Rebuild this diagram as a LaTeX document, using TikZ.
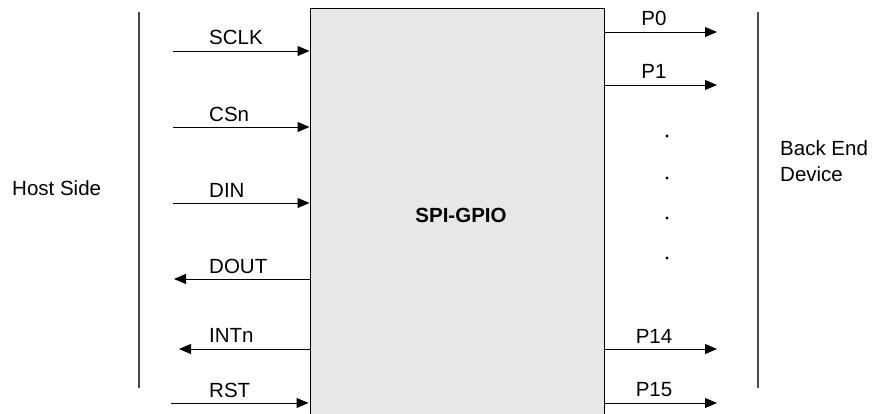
\documentclass[tikz,border=0pt]{standalone}
\usepackage{fontspec}
\setmainfont{Liberation Sans}
\usetikzlibrary{positioning,calc,arrows.meta}
\definecolor{boxgray}{RGB}{230,231,232}
\definecolor{sidegray}{RGB}{70,70,70}

\begin{document}
\begin{tikzpicture}[x=1pt,y=-1pt,
    chip/.style={rectangle,draw,line width=1pt,fill=boxgray,minimum width=294pt,minimum height=420pt,inner sep=0pt},
    sig/.style={-{Triangle[length=12pt,width=10pt]},line width=1pt},
    lbl/.style={inner sep=0pt,font=\fontsize{20.5}{26}\selectfont},
    side/.style={draw=sidegray,line width=1.4pt}]
\useasboundingbox (0,0) rectangle (873,413);

% Bloc central
\node[chip] (gpio) at (457,218) {};
\node[lbl,anchor=base,font=\fontsize{20.5}{26}\selectfont\bfseries] (name) at (461,222) {SPI-GPIO};

% Cotes
\draw[side] (139,12) -- (139,388);
\draw[side] (758,12) -- (758,388);
\node[lbl,anchor=base west] (host) at (12,195) {Host Side};
\node[lbl,anchor=base west,align=left] (dev) at (780,181) {Back End\\Device};

% Signaux hote
\coordinate (sclk) at (173,51);
\coordinate (csn) at (173,127);
\coordinate (din) at (173,203);
\coordinate (dout) at (174,279);
\coordinate (intn) at (179,349);
\coordinate (rst) at (171,403);
\draw[sig] (sclk) -- (sclk -| gpio.west);
\draw[sig] (csn) -- (csn -| gpio.west);
\draw[sig] (din) -- (din -| gpio.west);
\draw[sig] (dout -| gpio.west) -- (dout);
\draw[sig] (intn -| gpio.west) -- (intn);
\draw[sig] (rst) -- ($(rst -| gpio.west)+(-1,0)$);
\node[lbl,anchor=base west] (sclk lbl) at (209,44) {SCLK};
\node[lbl,anchor=base west] (csn lbl) at (209,121) {CSn};
\node[lbl,anchor=base west] (din lbl) at (209,197) {DIN};
\node[lbl,anchor=base west] (dout lbl) at (209,273) {DOUT};
\node[lbl,anchor=base west] (intn lbl) at (209,342) {INTn};
\node[lbl,anchor=base west] (rst lbl) at (209,397) {RST};

% Ports
\coordinate (p0) at (717,32);
\coordinate (p1) at (717,85);
\coordinate (p14) at (717,349);
\coordinate (p15) at (717,403);
\draw[sig] (p0 -| gpio.east) -- (p0);
\draw[sig] (p1 -| gpio.east) -- (p1);
\draw[sig] (p14 -| gpio.east) -- (p14);
\draw[sig] (p15 -| gpio.east) -- (p15);
\node[lbl,anchor=base] (p0 lbl) at (654,25) {P0};
\node[lbl,anchor=base] (p1 lbl) at (654,78) {P1};
\node[lbl,anchor=base] (p14 lbl) at (654,343) {P14};
\node[lbl,anchor=base] (p15 lbl) at (654,396) {P15};
\foreach \y in {136,178,218,258}
  \fill (667,\y) circle (1.6pt);

\end{tikzpicture}
\end{document}
